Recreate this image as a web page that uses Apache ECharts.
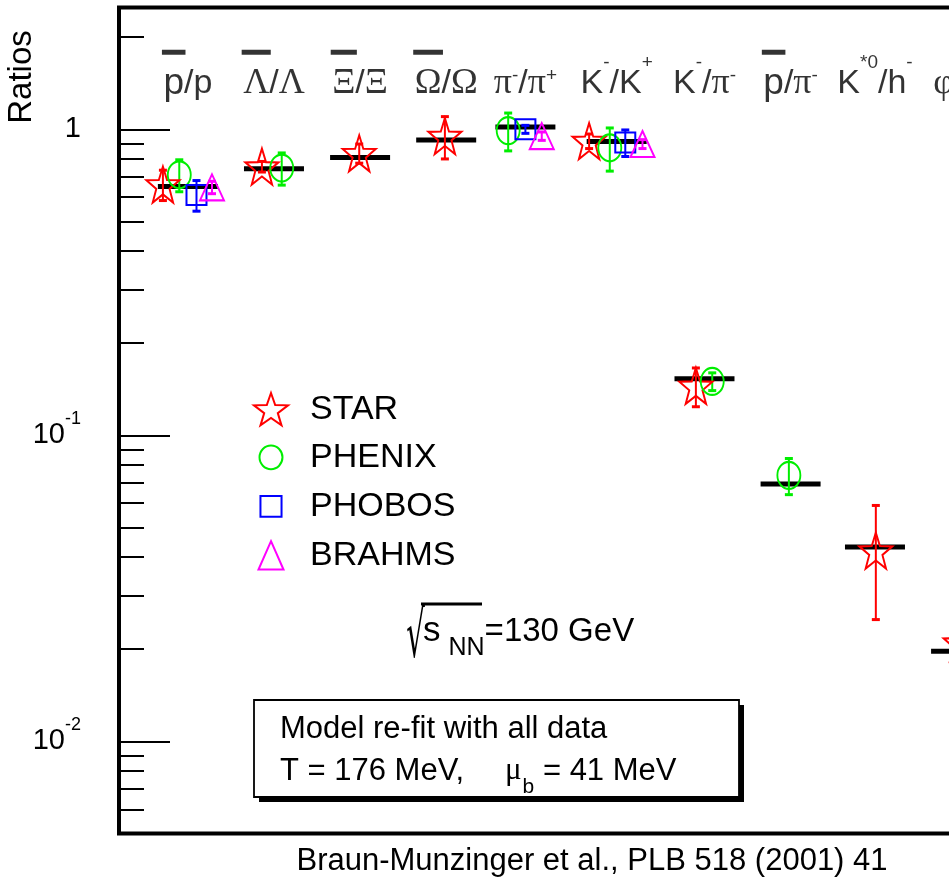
<!DOCTYPE html>
<html><head><meta charset="utf-8">
<script src="https://cdn.jsdelivr.net/npm/echarts@6/dist/echarts.min.js"></script>
<style>html,body{margin:0;padding:0;background:#fff}#c{width:949px;height:881px}</style>
</head><body><div id="c"></div><script>
// ---------------- data ----------------
const categories = ['p̄/p','Λ̄/Λ','Ξ̄/Ξ','Ω̄/Ω','π-/π+','K-/K+','K-/π-','p̄/π-','K*0/h-','φ/h-'];
const categoryX = [1, 2, 3, 4, 4.92, 5.98, 7, 8, 8.98, 9.98];
const modelValues = [0.65, 0.743, 0.809, 0.922, 1.017, 0.912, 0.153, 0.0693, 0.0432, 0.0197];

const starX = [0.71, 1.86, 2.99, 3.985, 5.66, 6.90, 8.99, 9.97];
const starY = [0.66, 0.755, 0.835, 0.95, 0.915, 0.145, 0.042, 0.021];
const starErr = [0.075, 0.03, 0.06, 0.15, 0.05, 0.021, 0.017, 0.003];

const phenixX = [0.90, 2.09, 4.72, 5.90, 7.09, 7.98];
const phenixY = [0.71, 0.747, 0.99, 0.87, 0.150, 0.074];
const phenixErr = [0.085, 0.09, 0.14, 0.14, 0.01, 0.01];

const phobosX = [1.10, 4.92, 6.08];
const phobosY = [0.61, 1.0, 0.905];
const phobosErr = [0.07, 0.03, 0.09];

const brahmsX = [1.28, 5.11, 6.28];
const brahmsY = [0.646, 0.95, 0.895];
const brahmsErr = [0.03, 0.03, 0.03];

const majorTicks = [0.01, 0.1, 1];
const minorTicks = [0.005,0.006,0.007,0.008,0.009,0.02,0.03,0.04,0.05,0.06,0.07,0.08,0.09,0.2,0.3,0.4,0.5,0.6,0.7,0.8,0.9,2];
const labelLevel = 1.536;

const categoryLabelTokens = [
  [['p','p'],['t','/p']],
  [['g','Λ'],['t','/'],['g','Λ']],
  [['g','Ξ'],['t','/'],['g','Ξ']],
  [['g','Ω'],['t','/'],['g','Ω']],
  [['g','π'],['sl','-'],['t','/'],['g','π'],['sl','+']],
  [['t','K'],['su','-'],['t','/K'],['su','+']],
  [['t','K'],['su','-'],['t','/'],['g','π'],['sl','-']],
  [['p','p'],['t','/'],['g','π'],['sl','-']],
  [['t','K'],['su','*0'],['t','/h'],['su','-']],
  [['g','φ'],['t','/h'],['su','-']]
];
const categoryBarred = [true, true, true, true, false, false, false, true, false, false];
const legendNames = ['STAR', 'PHENIX', 'PHOBOS', 'BRAHMS'];

// ---------------- styles ----------------
const SANS = 'Liberation Sans', SERIF = 'Liberation Serif';
const RED = '#ff0000', GREEN = '#00ee00', BLUE = '#0000ff', MAGENTA = '#ff00ff';
const TOKEN_STYLES = {
  t:  {fontSize: 34, fontFamily: SANS, color: '#000', lineHeight: 40},
  p:  {fontSize: 37, fontFamily: SANS, color: '#000', lineHeight: 40},
  g:  {fontSize: 36, fontFamily: SERIF, color: '#000', lineHeight: 40},
  su: {fontSize: 19, fontFamily: SANS, color: '#000', lineHeight: 40, padding: [0, 0, 42, 0]},
  sl: {fontSize: 19, fontFamily: SANS, color: '#000', lineHeight: 40, padding: [0, 0, 16, 0]}
};
const ctx = document.createElement('canvas').getContext('2d');
function tw(text, size, fam) { ctx.font = size + 'px ' + fam; return ctx.measureText(text).width; }

function buildLabel(i) {
  const toks = categoryLabelTokens[i];
  let total = 0;
  toks.forEach(([s, txt]) => { total += tw(txt, TOKEN_STYLES[s].fontSize, TOKEN_STYLES[s].fontFamily); });
  const rich = Object.assign({}, TOKEN_STYLES);
  let line1;
  if (categoryBarred[i]) {
    const [s0, t0] = toks[0];
    const bw = tw(t0, TOKEN_STYLES[s0].fontSize, TOKEN_STYLES[s0].fontFamily) + 3;
    rich.bar = {width: bw, height: 5, lineHeight: 23, backgroundColor: '#000'};
    rich.sp = {width: Math.max(1, total + 3 - bw), height: 5, lineHeight: 23};
    line1 = '{bar| }{sp| }';
  } else {
    rich.sp = {width: 1, height: 5, lineHeight: 23};
    line1 = '{sp| }';
  }
  const line2 = toks.map(([s, txt]) => '{' + s + '|' + txt + '}').join('');
  const str = line1 + '\n' + line2;
  return {show: true, position: 'inside', align: 'center', verticalAlign: 'middle', formatter: () => str, rich};
}

const STAR_PATH = 'path://M50 0L61.76 33.82L97.55 34.55L69.02 56.18L79.39 90.45L50 70L20.61 90.45L30.98 56.18L2.45 34.55L38.24 33.82Z';
const PAD = 'M0 0L0 0M100 100L100 100';
const CIRCLE_ICON = 'path://' + PAD + 'M16.2 50A33.8 34.7 0 0 1 83.8 50A33.8 34.7 0 0 1 16.2 50Z';
const SQUARE_ICON = 'path://' + PAD + 'M19 19.4L81 19.4L81 80.6L19 80.6Z';
const TRIANGLE_ICON = 'path://' + PAD + 'M50 8.3L86.8 91.7L13.2 91.7Z';

function hollow(color) { return {color: 'rgba(0,0,0,0)', borderColor: color, borderWidth: 2, opacity: 1}; }

function pointSeries(name, xs, ys, symbol, size, color) {
  return {
    type: 'scatter', name, symbol, symbolSize: size, z: 6, silent: true,
    data: xs.map((x, i) => [x, ys[i]]),
    itemStyle: hollow(color), emphasis: {disabled: true}
  };
}
function errorSeries(name, xs, ys, errs, color) {
  return {
    type: 'custom', name: name + ' err', z: 5, silent: true,
    data: xs.map((x, i) => [x, ys[i] - errs[i], ys[i] + errs[i]]),
    renderItem(params, api) {
      const x = api.value(0);
      const lo = api.coord([x, api.value(1)]);
      const hi = api.coord([x, api.value(2)]);
      const cw = 4;
      return {type: 'group', children: [
        {type: 'line', shape: {x1: lo[0], y1: lo[1], x2: hi[0], y2: hi[1]}, style: {stroke: color, lineWidth: 2}},
        {type: 'line', shape: {x1: lo[0] - cw, y1: lo[1], x2: lo[0] + cw, y2: lo[1]}, style: {stroke: color, lineWidth: 3}},
        {type: 'line', shape: {x1: hi[0] - cw, y1: hi[1], x2: hi[0] + cw, y2: hi[1]}, style: {stroke: color, lineWidth: 3}}
      ]};
    }
  };
}

const chart = echarts.init(document.getElementById('c'), null, {renderer: 'canvas'});
const option = {
  animation: false,
  backgroundColor: '#fff',
  grid: {left: 119, top: 7.5, width: 1016, height: 826, show: true, borderWidth: 4, borderColor: '#000', backgroundColor: 'transparent', outerBoundsMode: 'none', containLabel: false},
  xAxis: {type: 'value', min: 0.2, max: 12, show: false},
  yAxis: [{
    type: 'log', logBase: 10, min: 0.005, max: 2.5,
    axisLine: {show: false}, splitLine: {show: false}, minorTick: {show: false},
    axisTick: {show: true, inside: true, length: 51, lineStyle: {color: '#000', width: 2}, customValues: majorTicks},
    axisLabel: {
      show: true, customValues: majorTicks, margin: 38, color: '#000',
      formatter: v => { if (Math.abs(v - 1) < 1e-9) return '{b|1}'; return '{b|10}{s|' + Math.round(Math.log10(v)) + '}'; },
      rich: {
        b: {fontSize: 29, fontFamily: SANS, color: '#000', lineHeight: 34},
        s: {fontSize: 18, fontFamily: SANS, color: '#000', lineHeight: 34, padding: [0, 0, 32, 0]}
      }
    }
  }, {
    type: 'log', logBase: 10, min: 0.005, max: 2.5, position: 'left',
    axisLine: {show: false}, splitLine: {show: false}, minorTick: {show: false},
    axisTick: {show: true, inside: true, length: 25, lineStyle: {color: '#000', width: 2}, customValues: minorTicks},
    axisLabel: {show: false}
  }],
  legend: {
    orient: 'vertical', left: 248, top: 387, itemWidth: 34, itemHeight: 36, itemGap: 13,
    selectedMode: false,
    textStyle: {fontSize: 34, fontFamily: SANS, color: '#000', padding: [0, 0, 0, 17]},
    data: [
      {name: 'STAR', icon: STAR_PATH, itemStyle: hollow(RED)},
      {name: 'PHENIX', icon: CIRCLE_ICON, itemStyle: hollow(GREEN)},
      {name: 'PHOBOS', icon: SQUARE_ICON, itemStyle: hollow(BLUE)},
      {name: 'BRAHMS', icon: TRIANGLE_ICON, itemStyle: hollow(MAGENTA)}
    ]
  },
  series: [
    {type: 'scatter', name: 'model', symbol: 'rect', symbolSize: [60, 5], z: 2, silent: true,
     data: categoryX.map((x, i) => [x, modelValues[i]]), itemStyle: {color: '#000', opacity: 1}},
    {type: 'scatter', name: 'labels', symbolSize: 1, z: 4, silent: true, itemStyle: {color: 'rgba(0,0,0,0)'},
     data: categoryX.map((x, i) => ({value: [x, labelLevel], label: buildLabel(i)}))},
    errorSeries('STAR', starX, starY, starErr, RED),
    errorSeries('PHENIX', phenixX, phenixY, phenixErr, GREEN),
    errorSeries('PHOBOS', phobosX, phobosY, phobosErr, BLUE),
    errorSeries('BRAHMS', brahmsX, brahmsY, brahmsErr, MAGENTA),
    pointSeries('STAR', starX, starY, STAR_PATH, [33, 36], RED),
    pointSeries('PHENIX', phenixX, phenixY, 'circle', [23, 27], GREEN),
    pointSeries('PHOBOS', phobosX, phobosY, 'rect', [20, 20], BLUE),
    pointSeries('BRAHMS', brahmsX, brahmsY, 'triangle', [24, 26], MAGENTA)
  ],
  graphic: [
    {type: 'text', x: 21.5, y: 77, rotation: Math.PI / 2,
     style: {text: 'Ratios', fontSize: 33, fontFamily: SANS, fill: '#000', align: 'center', verticalAlign: 'middle'}},
    {type: 'rect', shape: {x: 259, y: 705, width: 485, height: 97}, z: 10, style: {fill: '#000'}},
    {type: 'rect', shape: {x: 254, y: 700, width: 485, height: 97}, z: 10, style: {fill: '#fff', stroke: '#000', lineWidth: 1.8}},
    {type: 'text', x: 280, y: 729.5, z: 11,
     style: {text: 'Model re-fit with all data', fontSize: 31, fontFamily: SANS, fill: '#000', align: 'left', verticalAlign: 'middle'}},
    {type: 'text', x: 280, y: 771, z: 11,
     style: {text: 'T = 176 MeV,', fontSize: 31, fontFamily: SANS, fill: '#000', align: 'left', verticalAlign: 'middle'}},
    {type: 'text', x: 505, y: 771, z: 11,
     style: {text: '{g|μ}{sub|b}{t| = 41 MeV}', align: 'left', verticalAlign: 'middle',
       rich: {g: {fontSize: 31, fontFamily: SERIF, fill: '#000', lineHeight: 40},
              sub: {fontSize: 21, fontFamily: SANS, fill: '#000', lineHeight: 40, padding: [32, 0, 0, 1]},
              t: {fontSize: 31, fontFamily: SANS, fill: '#000', lineHeight: 40}}}},
    {type: 'text', x: 415.5, y: 640, z: 11, scaleX: 0.45,
     style: {text: '√', fontSize: 65, fontFamily: 'DejaVu Sans', fill: '#000', align: 'center', verticalAlign: 'middle'}},
    {type: 'line', z: 11, shape: {x1: 421, y1: 604, x2: 482, y2: 604}, style: {stroke: '#000', lineWidth: 3}},
    {type: 'text', x: 423, y: 631.5, z: 11,
     style: {text: '{s|s}{sub|NN}{t|=130 GeV}', align: 'left', verticalAlign: 'middle',
       rich: {s: {fontSize: 35, fontFamily: SANS, fill: '#000', lineHeight: 40},
              sub: {fontSize: 25, fontFamily: SANS, fill: '#000', lineHeight: 40, padding: [33, 0, 0, 8]},
              t: {fontSize: 33, fontFamily: SANS, fill: '#000', lineHeight: 40}}}},
    {type: 'text', x: 592, y: 861, z: 11,
     style: {text: 'Braun-Munzinger et al., PLB 518 (2001) 41', fontSize: 31, fontFamily: SANS, fill: '#000', align: 'center', verticalAlign: 'middle'}}
  ]
};
chart.setOption(option);
</script></body></html>
